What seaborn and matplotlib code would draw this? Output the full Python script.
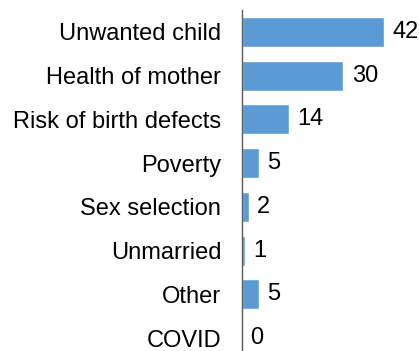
import matplotlib
matplotlib.use("Agg")
import matplotlib.pyplot as plt
import seaborn as sns
import pandas as pd

categories = ["Unwanted child", "Health of mother", "Risk of birth defects", "Poverty",
              "Sex selection", "Unmarried", "Other", "COVID"]
values = [42, 30, 14, 5, 2, 1, 5, 0]

sns.set_style("white")
plt.rcParams["font.family"] = ["Liberation Sans", "DejaVu Sans"]

df = pd.DataFrame({"reason": categories, "count": values})

W, H = 419, 351
fig = plt.figure(figsize=(W / 100, H / 100), dpi=100)
ax = fig.add_axes([242 / W, -9 / H, 169 / W, 350 / H])

sns.barplot(data=df, y="reason", x="count", orient="h", color="#5B9BD5",
            saturation=1, width=0.69, ax=ax)

for cont in ax.containers:
    ax.bar_label(cont, labels=[f"{v:.0f}" for v in values], padding=6,
                 fontsize=17, color="black")

ax.set_xlim(0, 50)
ax.set_xlabel("")
ax.set_ylabel("")
ax.set_xticks([])
ax.tick_params(axis="y", length=0, pad=15, labelsize=17, labelcolor="black")
for s in ["top", "right", "bottom"]:
    ax.spines[s].set_visible(False)
ax.spines["left"].set_color("#595959")
ax.spines["left"].set_linewidth(1.0)

fig.savefig("out.png", dpi=100)
